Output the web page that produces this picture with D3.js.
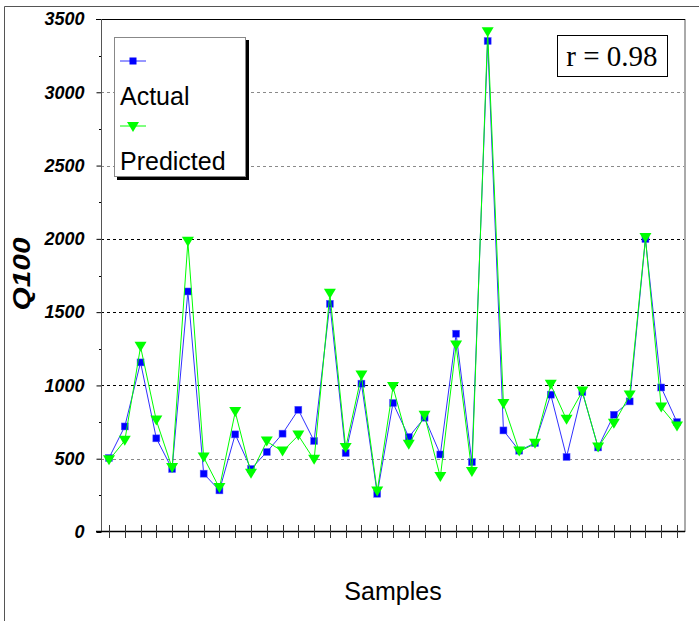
<!DOCTYPE html>
<html>
<head>
<meta charset="utf-8">
<script src="https://cdnjs.cloudflare.com/ajax/libs/d3/7.8.5/d3.min.js"></script>
<style>
  body { margin: 0; background: #fff; }
  svg { display: block; }
</style>
</head>
<body>
<div id="chart"></div>
<script>
// values
var samples = d3.range(1, 38);
var actual = [505, 720, 1157, 639, 430, 1641, 398, 284, 666, 430, 546, 671, 834, 621, 1557, 539, 1012, 261, 880, 648,
              780, 529, 1353, 477, 3350, 693, 555, 607, 937, 512, 955, 577, 800, 891, 1999, 986, 750];
var predicted = [490, 623, 1264, 761, 437, 1980, 509, 300, 819, 398, 618, 550, 659, 493, 1626, 573, 1068, 277, 989, 595,
                 793, 375, 1273, 409, 3410, 873, 550, 602, 1005, 766, 959, 577, 739, 932, 2005, 850, 720];
var yTicks = [0, 500, 1000, 1500, 2000, 2500, 3000, 3500];
var yMinor = [250, 750, 1250, 1750, 2250, 2750, 3250];
var darkGrid = [1000, 1500, 2000];

var width = 699, height = 621;
var sans = "'Liberation Sans', Arial, sans-serif";

var svg = d3.select("#chart").append("svg")
    .attr("width", width)
    .attr("height", height);

svg.append("rect").attr("width", width).attr("height", height).attr("fill", "#fff");

// outer frame (only left and top visible)
svg.append("path")
    .attr("d", "M4.5,621 V6.5 H699")
    .attr("fill", "none")
    .attr("stroke", "#555")
    .attr("stroke-width", 1);

var x = d3.scaleLinear().domain([1, 37]).range([109, 677]);
var y = d3.scaleLinear().domain([0, 3500]).range([532, 19]);
var left = 101, right = 685;

// grid lines
svg.append("g").selectAll("line")
    .data(yTicks.filter(d => d > 0 && d < 3500))
    .enter().append("line")
    .attr("x1", left).attr("x2", right - 1)
    .attr("y1", d => Math.round(y(d)) + 0.5)
    .attr("y2", d => Math.round(y(d)) + 0.5)
    .attr("stroke", d => darkGrid.includes(d) ? "#000" : "#8a8a8a")
    .attr("stroke-width", 1)
    .attr("stroke-dasharray", "3,3");

// right border (grey) and top border
svg.append("line")
    .attr("x1", right).attr("x2", right).attr("y1", 19).attr("y2", 532)
    .attr("stroke", "#aaa").attr("stroke-width", 2);
svg.append("line")
    .attr("x1", 96).attr("x2", right).attr("y1", 19.5).attr("y2", 19.5)
    .attr("stroke", "#000");

// y axis
var yAxis = d3.axisLeft(y).tickValues(yTicks).tickSize(5).tickPadding(12)
    .tickFormat(d3.format("d"));
var gy = svg.append("g").attr("transform", "translate(" + (left + 0.5) + ",0)").call(yAxis);
gy.select(".domain").remove();
gy.selectAll("line").attr("stroke", "#000");
gy.selectAll("text")
    .attr("font-family", sans)
    .attr("font-size", 18)
    .attr("font-weight", "bold")
    .attr("font-style", "italic")
    .attr("fill", "#000");
svg.append("g").selectAll("line")
    .data(yMinor)
    .enter().append("line")
    .attr("x1", left - 2).attr("x2", left)
    .attr("y1", d => Math.round(y(d)) + 0.5)
    .attr("y2", d => Math.round(y(d)) + 0.5)
    .attr("stroke", "#000");
svg.append("line")
    .attr("x1", left + 0.5).attr("x2", left + 0.5).attr("y1", 19).attr("y2", 532)
    .attr("stroke", "#555");

// x axis
svg.append("line")
    .attr("x1", 96).attr("x2", right).attr("y1", 531.5).attr("y2", 531.5)
    .attr("stroke", "#000").attr("stroke-width", 1.5);
svg.append("g").selectAll("line")
    .data(samples)
    .enter().append("line")
    .attr("x1", d => Math.round(x(d)) + 0.5)
    .attr("x2", d => Math.round(x(d)) + 0.5)
    .attr("y1", 525).attr("y2", 538)
    .attr("stroke", "#333");

// series
var line = d3.line().x((d, i) => x(samples[i])).y(d => y(d));

svg.append("path").datum(actual)
    .attr("d", line)
    .attr("fill", "none")
    .attr("stroke", "#3030ff")
    .attr("stroke-width", 1);
svg.append("g").selectAll("rect")
    .data(actual)
    .enter().append("rect")
    .attr("x", (d, i) => x(samples[i]) - 3.5)
    .attr("y", d => y(d) - 3.5)
    .attr("width", 7).attr("height", 7)
    .attr("fill", "#0000ff")
    .attr("stroke", "#6060ff")
    .attr("stroke-width", 0.5);

var tri = "M-6,-5L6,-5L0,5Z";
svg.append("path").datum(predicted)
    .attr("d", line)
    .attr("fill", "none")
    .attr("stroke", "#00ff00")
    .attr("stroke-width", 1);
svg.append("g").selectAll("path")
    .data(predicted)
    .enter().append("path")
    .attr("d", tri)
    .attr("transform", (d, i) => "translate(" + x(samples[i]) + "," + y(d) + ")")
    .attr("fill", "#00ff00");

// legend
var lg = svg.append("g");
lg.append("rect").attr("x", 117).attr("y", 40).attr("width", 132).attr("height", 140).attr("fill", "#000");
lg.append("rect").attr("x", 114.5).attr("y", 37.5).attr("width", 131).attr("height", 139)
    .attr("fill", "#fff").attr("stroke", "#888");
lg.append("line").attr("x1", 120).attr("x2", 146).attr("y1", 61).attr("y2", 61).attr("stroke", "#3030ff");
lg.append("rect").attr("x", 129.5).attr("y", 57.5).attr("width", 7).attr("height", 7).attr("fill", "#0000ff");
lg.append("text").attr("x", 120).attr("y", 105).text("Actual")
    .attr("font-family", sans).attr("font-size", 25).attr("fill", "#000");
lg.append("line").attr("x1", 120).attr("x2", 146).attr("y1", 126).attr("y2", 126).attr("stroke", "#00ff00");
lg.append("path").attr("d", tri).attr("transform", "translate(133,127)").attr("fill", "#00ff00");
lg.append("text").attr("x", 120).attr("y", 170).text("Predicted")
    .attr("font-family", sans).attr("font-size", 25).attr("fill", "#000");

// r box
svg.append("rect").attr("x", 557.5).attr("y", 35.5).attr("width", 110).attr("height", 41)
    .attr("fill", "#fff").attr("stroke", "#000");
svg.append("text").attr("x", 612).attr("y", 66).attr("text-anchor", "middle")
    .attr("font-family", "'Liberation Serif', 'Times New Roman', serif")
    .attr("font-size", 29).attr("fill", "#000")
    .text("r = 0.98");

// axis titles
svg.append("text")
    .attr("transform", "translate(30,274) rotate(-90)")
    .attr("text-anchor", "middle")
    .attr("font-family", sans).attr("font-size", 24)
    .attr("font-weight", "bold").attr("font-style", "italic")
    .attr("textLength", 73).attr("lengthAdjust", "spacingAndGlyphs")
    .text("Q100");
svg.append("text")
    .attr("x", 393).attr("y", 600)
    .attr("text-anchor", "middle")
    .attr("font-family", sans).attr("font-size", 25)
    .text("Samples");
</script>
</body>
</html>
